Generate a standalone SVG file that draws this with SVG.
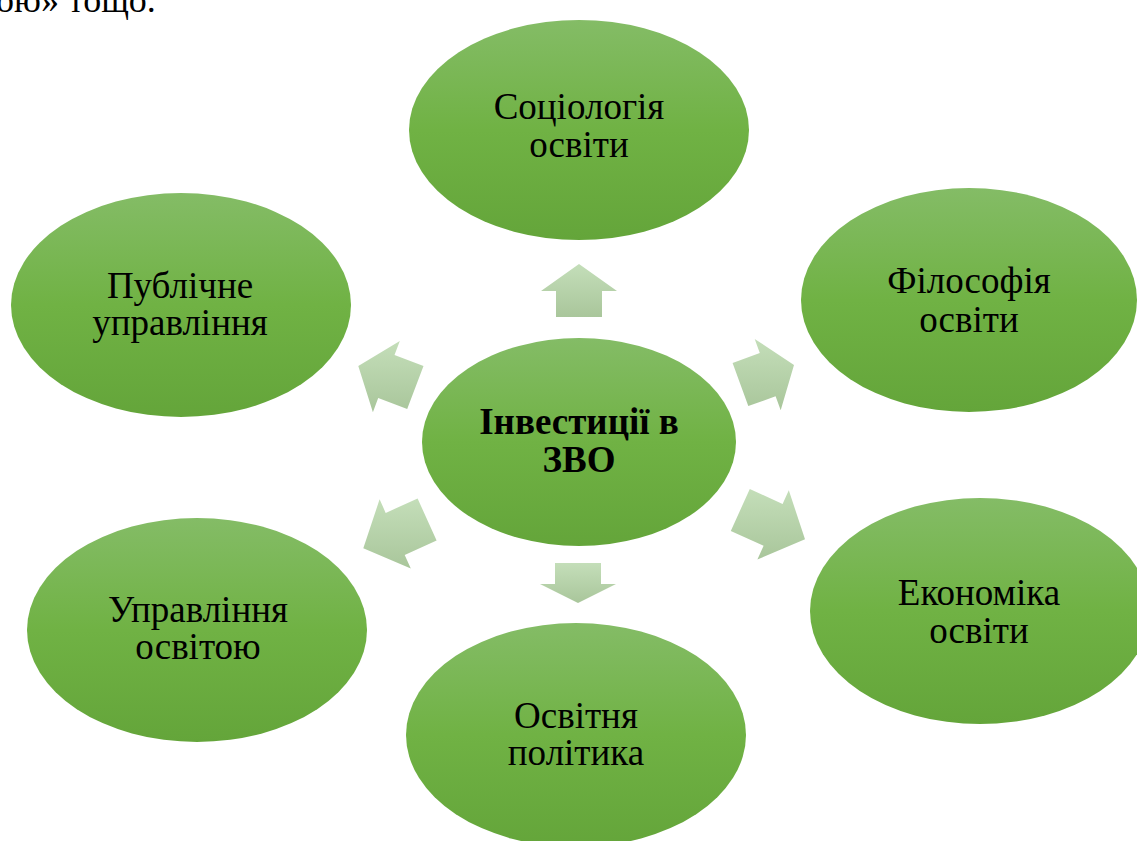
<svg xmlns="http://www.w3.org/2000/svg" width="1137" height="841" viewBox="0 0 1137 841">
<defs>
<linearGradient id="gNode" x1="0" y1="0" x2="0" y2="1">
<stop offset="0" stop-color="#84bc66"/>
<stop offset="0.5" stop-color="#70b244"/>
<stop offset="1" stop-color="#64a53a"/>
</linearGradient>
<linearGradient id="gArrow" x1="0" y1="0" x2="0" y2="1">
<stop offset="0" stop-color="#c4deb9"/>
<stop offset="1" stop-color="#a9c69b"/>
</linearGradient>
<style>
.node{fill:url(#gNode);}
.arrow{fill:url(#gArrow);}
.lbl{font-family:"Liberation Serif","Times New Roman",serif;font-size:37px;fill:#000;text-anchor:middle;}
.bold{font-weight:bold;}
.top{font-family:"Liberation Serif","Times New Roman",serif;font-size:36px;fill:#000;}
</style>
</defs>
<rect width="1137" height="841" fill="#fff"/>
<text class="top" x="-4" y="12">ою» тощо.</text>

<g id="connectors">
<polygon class="arrow" points="579,264 617,291 602,291 602,317 556,317 556,291 541,291"/>
<polygon class="arrow" points="578,603 540,584 555,584 555,563 601,563 601,584 616,584"/>
<polygon class="arrow" points="358.3,366 372.9,412.2 378.2,398.1 407.2,409.1 423.5,366.1 394.5,355.1 399.8,341.1"/>
<polygon class="arrow" points="794,365 754.7,338.9 759.8,353 732.6,362.9 748.3,406.1 775.6,396.2 780.7,410.3"/>
<polygon class="arrow" points="363.3,548.3 410.8,568.5 404.7,554.9 436.6,540.5 417.6,498.5 385.7,512.9 379.6,499.3"/>
<polygon class="arrow" points="805,539.3 788.8,490.2 782.6,503.9 749.8,489 730.8,530.9 763.6,545.8 757.4,559.5"/>
</g>

<g id="node-center">
<ellipse class="node" cx="579" cy="442" rx="157" ry="104"/>
<text class="lbl bold" x="579" y="434">Інвестиції в</text>
<text class="lbl bold" x="579" y="472">ЗВО</text>
</g>
<g id="node-sociology">
<ellipse class="node" cx="579" cy="130" rx="170" ry="110"/>
<text class="lbl" x="579" y="119">Соціологія</text>
<text class="lbl" x="579" y="157">освіти</text>
</g>
<g id="node-public">
<ellipse class="node" cx="181" cy="305" rx="170" ry="112"/>
<text class="lbl" x="180" y="298">Публічне</text>
<text class="lbl" x="180" y="335">управління</text>
</g>
<g id="node-philosophy">
<ellipse class="node" cx="969" cy="300" rx="168" ry="112"/>
<text class="lbl" x="969" y="293">Філософія</text>
<text class="lbl" x="969" y="332">освіти</text>
</g>
<g id="node-economics">
<ellipse class="node" cx="980" cy="611" rx="170" ry="113"/>
<text class="lbl" x="979" y="605">Економіка</text>
<text class="lbl" x="979" y="643">освіти</text>
</g>
<g id="node-management">
<ellipse class="node" cx="197" cy="630" rx="170" ry="112"/>
<text class="lbl" x="198" y="622">Управління</text>
<text class="lbl" x="198" y="659">освітою</text>
</g>
<g id="node-policy">
<ellipse class="node" cx="576" cy="735" rx="170" ry="112"/>
<text class="lbl" x="576" y="728">Освітня</text>
<text class="lbl" x="576" y="765">політика</text>
</g>
</svg>
